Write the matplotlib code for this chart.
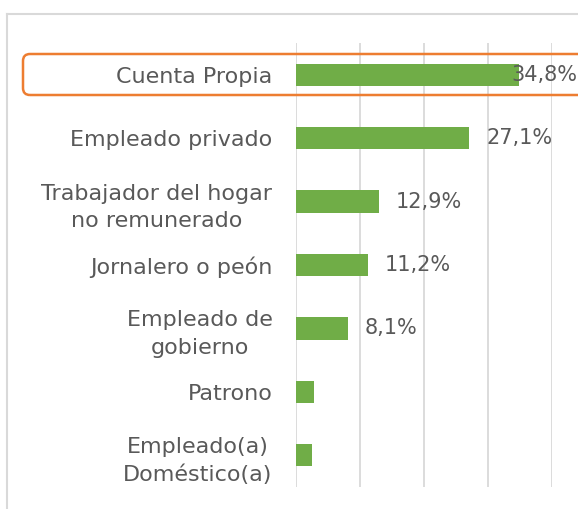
import matplotlib.pyplot as plt
from matplotlib.patches import FancyBboxPatch
from matplotlib.lines import Line2D

# categories top -> bottom, shares in percent
categories = ["Cuenta Propia", "Empleado privado", "Trabajador del hogar\nno remunerado",
              "Jornalero o peón", "Empleado de\ngobierno", "Patrono",
              "Empleado(a)\nDoméstico(a)"]
shares = [34.8, 27.1, 12.9, 11.2, 8.1, 2.8, 2.5]
value_labels = ["34,8%", "27,1%", "12,9%", "11,2%", "8,1%", "", ""]

GREEN = "#70AD47"
TEXT = "#595959"
GRID = "#D9D9D9"
ORANGE = "#ED7D31"

plt.rcParams['font.family'] = ['DejaVu Sans']

W, H = 578, 509
fig = plt.figure(figsize=(W / 100, H / 100), dpi=100)
ax = fig.add_axes([296 / W, 1 - 487 / H, (552 - 296) / W, (487 - 43) / H])

ypos = list(range(len(categories)))
ax.barh(ypos, shares, height=0.35, color=GREEN, zorder=3)
ax.set_xlim(0, 40)
ax.set_ylim(len(categories) - 0.5, -0.5)

ax.set_xticks([0, 10, 20, 30, 40])
ax.xaxis.grid(True, color=GRID, linewidth=1.3, zorder=0)
ax.tick_params(left=False, bottom=False, labelbottom=False)
ax.set_yticks(ypos)
ax.set_yticklabels(categories, fontsize=16, color=TEXT, multialignment='center',
                   linespacing=1.45)
ax.tick_params(axis='y', pad=13.5)
for s in ax.spines.values():
    s.set_visible(False)

# data labels sit just past the bar end, kept inside the chart area
for y, v, lab in zip(ypos, shares, value_labels):
    if lab:
        ax.text(min(v + 2.6, 33.7), y, lab, va='center', ha='left',
                fontsize=15, color=TEXT, zorder=4)

# chart area border (left and top edges)
fig.add_artist(Line2D([7 / W, 7 / W], [0, 1 - 14 / H], color=GRID, lw=1.5,
                      transform=fig.transFigure))
fig.add_artist(Line2D([7 / W, 1], [1 - 14 / H, 1 - 14 / H], color=GRID, lw=1.5,
                      transform=fig.transFigure))

# highlight box around the first row
box = FancyBboxPatch((23, H - 95), 590, 41, boxstyle="round,pad=0,rounding_size=7",
                     transform=None, fill=False, edgecolor=ORANGE, linewidth=1.8,
                     zorder=10)
fig.add_artist(box)

fig.savefig("out.png", dpi=100)
